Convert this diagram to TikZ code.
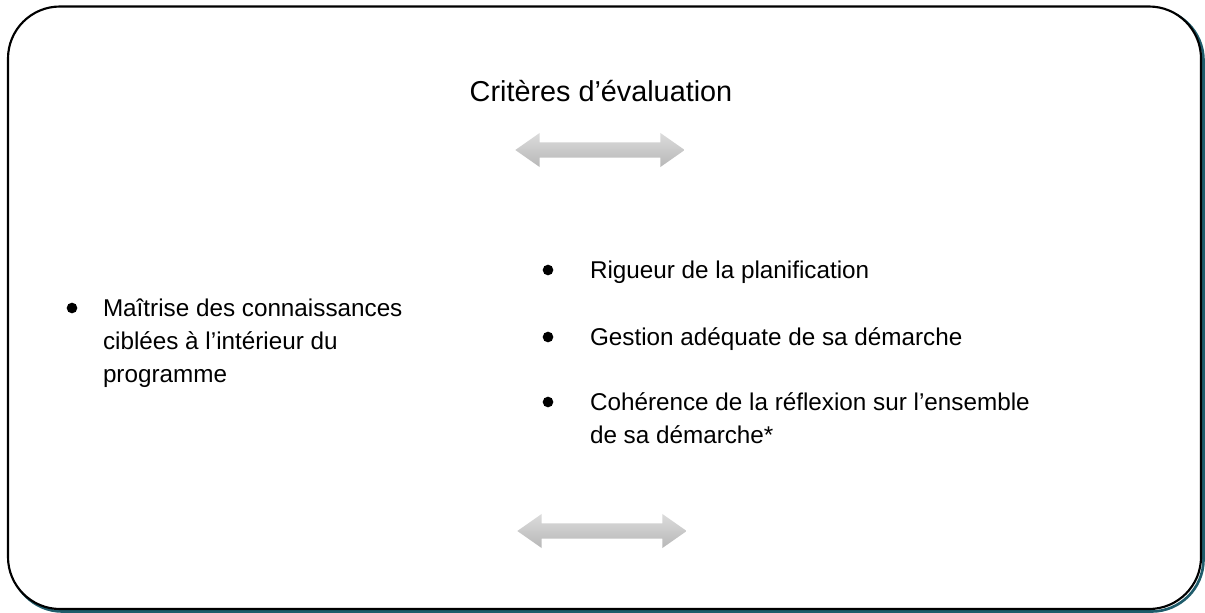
\documentclass[tikz,border=0pt]{standalone}
\usepackage{fontspec}
\setmainfont{Liberation Sans}
\usetikzlibrary{shapes.arrows}
\usepackage{xcolor}
\definecolor{shadowteal}{HTML}{1F5C6B}

\begin{document}
\begin{tikzpicture}[x=0.75pt, y=-0.75pt,
  every node/.style = {inner sep=0pt, outer sep=0pt},
  titletext/.style = {font=\fontsize{21.6}{26}\selectfont, anchor=base},
  itemtext/.style = {font=\fontsize{18.2}{24.75}\selectfont, align=left, anchor=base west},
  itemdot/.style = {circle, fill=black, minimum size=8pt},
  dblarrow/.style = {double arrow, draw=none, minimum height=127pt,
    minimum width=25.5pt, inner ysep=5.6pt, inner xsep=0pt,
    double arrow head extend=7pt, double arrow tip angle=70,
    top color=black!14, bottom color=black!28}
  ]
  \useasboundingbox (0,0) rectangle (1205,613);
  % frame with its shadow
  \draw[shadowteal, line width=2pt, rounded corners=39pt] (10.5,8.5) rectangle (1203.5,611.5);
  \draw[fill=white, line width=1.6pt, rounded corners=39pt] (8,6.5) rectangle (1201,609);

  \node[titletext] (title) at (601,102) {Critères d’évaluation};
  \node[dblarrow] (arrowTop) at (600,150) {};

  % multi-line items sit on the baseline of their last line
  \node[itemdot] (dotA) at (72,308) {};
  \node[itemtext] (itemA) at (103,382) {Maîtrise des connaissances\\ciblées à l’intérieur du\\programme};

  \node[itemdot] (dotB) at (548,270) {};
  \node[itemtext] (itemB) at (590,278) {Rigueur de la planification};
  \node[itemdot] (dotC) at (548,337) {};
  \node[itemtext] (itemC) at (590,345) {Gestion adéquate de sa démarche};
  \node[itemdot] (dotD) at (548,402) {};
  \node[itemtext] (itemD) at (590,443) {Cohérence de la réflexion sur l’ensemble\\de sa démarche*};

  \node[dblarrow] (arrowBottom) at (602,531) {};
\end{tikzpicture}
\end{document}
